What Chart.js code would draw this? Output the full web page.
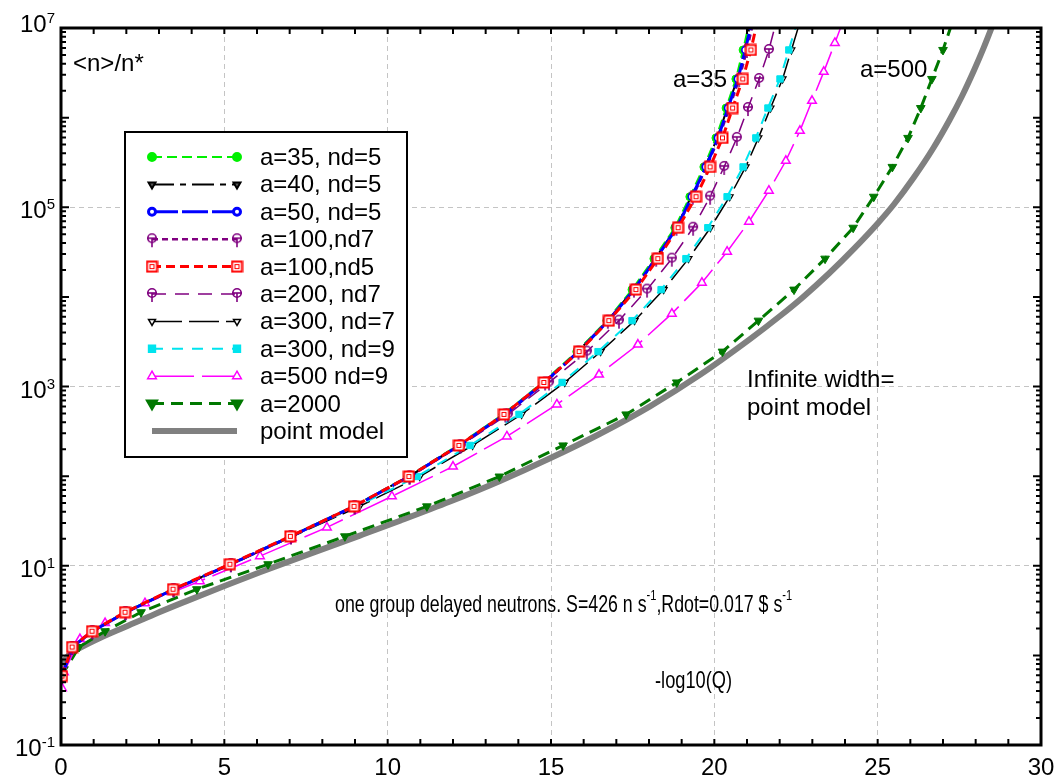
<!DOCTYPE html>
<html>
<head>
<meta charset="utf-8">
<script src="https://cdn.jsdelivr.net/npm/chart.js@4/dist/chart.umd.min.js"></script>
<style>
  html, body { margin: 0; padding: 0; background: #fff; }
</style>
</head>
<body>
<canvas id="grafica" width="1059" height="777"></canvas>
<script>
// niveles de <n>/n* donde caen los marcadores (compartidos por casi todas las curvas)
const niveles = [0.587, 1.24, 1.86, 3.03, 5.47, 10.4, 21.3, 46, 99, 220, 488, 1110, 2450, 5430,
  12050, 26700, 59100, 131000, 282000, 594000, 1.28e6, 2.70e6, 5.69e6, 1.2e7];

// -log10(Q) de cada curva en esos niveles
const x_a35 = [0.03, 0.34, 0.95, 1.96, 3.43, 5.17, 7.01, 8.94, 10.62, 12.15, 13.53, 14.75, 15.79, 16.71, 17.48, 18.15, 18.79, 19.25, 19.68, 20.05, 20.36, 20.66, 20.88, 21.08];
const x_a40 = [0.03, 0.34, 0.96, 1.98, 3.45, 5.19, 7.03, 8.96, 10.64, 12.18, 13.56, 14.78, 15.82, 16.74, 17.52, 18.19, 18.83, 19.29, 19.72, 20.09, 20.40, 20.70, 20.92, 21.12];
const x_a50 = [0.03, 0.35, 0.97, 1.99, 3.46, 5.20, 7.04, 8.98, 10.66, 12.20, 13.58, 14.80, 15.84, 16.76, 17.54, 18.21, 18.85, 19.31, 19.74, 20.11, 20.42, 20.72, 20.95, 21.15];
const x_a100nd7 = [0.03, 0.35, 0.97, 1.99, 3.46, 5.20, 7.04, 8.98, 10.66, 12.21, 13.60, 14.82, 15.84, 16.74, 17.54, 18.22, 18.84, 19.34, 19.76, 20.14, 20.46, 20.76, 21.00, 21.20];
const x_a100nd5 = [0.03, 0.34, 0.95, 1.96, 3.43, 5.17, 7.02, 8.97, 10.65, 12.18, 13.56, 14.78, 15.86, 16.77, 17.60, 18.27, 18.89, 19.44, 19.87, 20.25, 20.56, 20.87, 21.12, 21.32];
const x_a200nd7 = [0.03, 0.34, 0.95, 1.96, 3.43, 5.20, 7.04, 9.00, 10.68, 12.24, 13.68, 14.94, 16.10, 17.08, 17.94, 18.70, 19.35, 19.87, 20.30, 20.69, 21.03, 21.37, 21.67, 21.90];
const x_a300nd7 = [0.03, 0.34, 0.96, 1.98, 3.46, 5.24, 7.10, 9.14, 10.98, 12.60, 14.10, 15.42, 16.52, 17.56, 18.45, 19.21, 19.88, 20.47, 20.96, 21.35, 21.72, 22.09, 22.36, 22.63];
const x_a300nd9 = [0.03, 0.34, 0.95, 1.96, 3.43, 5.20, 7.04, 9.06, 10.90, 12.52, 14.02, 15.34, 16.44, 17.48, 18.37, 19.13, 19.80, 20.39, 20.88, 21.27, 21.64, 22.01, 22.28, 22.55];
const x_a2000 = [0.01, 0.55, 1.35, 2.45, 4.16, 6.34, 8.69, 11.20, 13.42, 15.37, 17.30, 18.85, 20.25, 21.35, 22.44, 23.39, 24.25, 24.88, 25.45, 25.93, 26.32, 26.66, 27.00, 27.30];

// a=500 tiene sus marcadores en otros niveles
const niveles_a500 = [0.43, 0.65, 1.52, 2.29, 3.82, 6.72, 12.8, 26.8, 59.5, 128, 277, 630, 1360, 2940,
  6500, 14400, 31900, 68900, 153000, 330000, 712000, 1.54e6, 3.24e6, 6.81e6, 1.3e7];
const x_a500 = [0.03, 0.09, 0.58, 1.35, 2.57, 4.25, 6.09, 8.14, 10.13, 12.00, 13.65, 15.18, 16.47, 17.66,
  18.70, 19.62, 20.39, 21.06, 21.67, 22.19, 22.62, 22.99, 23.35, 23.69, 23.98];

// modelo puntual (ancho infinito)
const x_punto = [0, 0.09, 0.28, 0.64, 1.19, 1.96, 2.88, 3.80, 5.02, 6.09, 7.32, 9.15, 10.38, 11.91, 13.44,
  14.97, 16.50, 18.03, 19.56, 21.09, 22.0, 22.71, 23.5, 24.3, 25.0, 25.5, 26.1, 26.7, 27.2, 27.58, 27.95, 28.25, 28.45, 28.6];
const n_punto = [0.543, 0.82, 1.03, 1.24, 1.56, 2.07, 2.90, 3.98, 5.98, 8.45, 12.4, 21.7, 31.8, 52.0, 88.3,
  158, 297, 601, 1350, 3380, 6080, 9930, 18100, 35200, 65900, 108000, 213000, 455000, 940000, 1.73e6, 3.37e6, 6.07e6, 9.27e6, 1.29e7];

const etiquetas = ['a=35, nd=5', 'a=40, nd=5', 'a=50, nd=5', 'a=100,nd7', 'a=100,nd5', 'a=200, nd7',
  'a=300, nd=7', 'a=300, nd=9', 'a=500 nd=9', 'a=2000', 'point model'];
const ticks_x = [0, 5, 10, 15, 20, 25, 30];
const ticks_y = [0.1, 10, 1e3, 1e5, 1e7];

const FUENTE = '"Liberation Sans", Arial, sans-serif';
const pares = (xs, ys) => xs.map((v, i) => ({ x: v, y: ys[i] }));

// marcadores propios: circulo con palito (morado) y cuadro doble (rojo)
function marcaMorada() {
  const c = document.createElement('canvas');
  c.width = 14; c.height = 18;
  const g = c.getContext('2d');
  g.strokeStyle = '#800080'; g.lineWidth = 1.6;
  g.beginPath(); g.arc(7, 8, 4.2, 0, 2 * Math.PI); g.stroke();
  g.beginPath(); g.moveTo(7, 8); g.lineTo(7, 17); g.stroke();
  g.beginPath(); g.moveTo(2, 8); g.lineTo(12, 8); g.stroke();
  return c;
}
function marcaRoja() {
  const c = document.createElement('canvas');
  c.width = 13; c.height = 13;
  const g = c.getContext('2d');
  g.fillStyle = '#fff'; g.fillRect(1, 1, 11, 11);
  g.strokeStyle = '#ff0000'; g.lineWidth = 2;
  g.strokeRect(1.5, 1.5, 10, 10);
  g.lineWidth = 1;
  g.strokeRect(4.5, 4.5, 4, 4);
  return c;
}
const morado = marcaMorada();
const rojo = marcaRoja();

const series = [
  { label: etiquetas[0], data: pares(x_a35, niveles), borderColor: '#00f000', borderWidth: 2, borderDash: [10, 5],
    pointStyle: 'circle', pointRadius: 4, pointBackgroundColor: '#00f000', pointBorderWidth: 1, order: 3 },
  { label: etiquetas[1], data: pares(x_a40, niveles), borderColor: '#000', borderWidth: 2, borderDash: [22, 6, 6, 6],
    pointStyle: 'triangle', pointRotation: 180, pointRadius: 4, pointBackgroundColor: '#555', pointBorderWidth: 1.2, order: 4 },
  { label: etiquetas[2], data: pares(x_a50, niveles), borderColor: '#0000ff', borderWidth: 3, borderDash: [26, 4],
    pointStyle: 'circle', pointRadius: 3.5, pointBackgroundColor: '#fff', pointBorderWidth: 1.6, order: 1 },
  { label: etiquetas[3], data: pares(x_a100nd7, niveles), borderColor: '#800080', borderWidth: 2.5, borderDash: [6, 4],
    pointStyle: morado, pointRadius: 5, pointBackgroundColor: '#fff', pointBorderWidth: 1, order: 2 },
  { label: etiquetas[4], data: pares(x_a100nd5, niveles), borderColor: '#ff0000', borderWidth: 3, borderDash: [9, 5],
    pointStyle: rojo, pointRadius: 6, pointBackgroundColor: '#fff', pointBorderWidth: 1, order: 0 },
  { label: etiquetas[5], data: pares(x_a200nd7, niveles), borderColor: '#800080', borderWidth: 1.5, borderDash: [14, 9],
    pointStyle: morado, pointRadius: 5, pointBackgroundColor: '#fff', pointBorderWidth: 1, order: 5 },
  { label: etiquetas[6], data: pares(x_a300nd7, niveles), borderColor: '#000', borderWidth: 1.5, borderDash: [30, 7],
    pointStyle: 'triangle', pointRotation: 180, pointRadius: 4, pointBackgroundColor: '#fff', pointBorderWidth: 1.2, order: 7 },
  { label: etiquetas[7], data: pares(x_a300nd9, niveles), borderColor: '#00e4ee', borderWidth: 2, borderDash: [11, 9],
    pointStyle: 'rect', pointRadius: 4.5, pointBackgroundColor: '#00e4ee', pointBorderWidth: 1, order: 6 },
  { label: etiquetas[8], data: pares(x_a500, niveles_a500), borderColor: '#ff00ff', borderWidth: 1.5, borderDash: [42, 8],
    pointStyle: 'triangle', pointRadius: 5, pointBackgroundColor: '#fff', pointBorderWidth: 1.5, order: 8 },
  { label: etiquetas[9], data: pares(x_a2000, niveles), borderColor: '#007800', borderWidth: 3, borderDash: [12, 7],
    pointStyle: 'triangle', pointRotation: 180, pointRadius: 5, pointBackgroundColor: '#007800', pointBorderWidth: 1, order: 9 },
  { label: etiquetas[10], data: pares(x_punto, n_punto), borderColor: '#808080', borderWidth: 6, borderDash: [],
    pointStyle: 'cross', pointRadius: 0, pointBackgroundColor: '#808080', pointBorderWidth: 1,
    cubicInterpolationMode: 'monotone', order: 10 }
];

series.forEach(s => {
  s.pointBorderColor = s.borderColor;
  s.pointHoverRadius = s.pointRadius;
  s.fill = false;
  s.clip = 0;
  s.tension = s.cubicInterpolationMode ? 0.4 : 0;
});

const sinBorde = (ctx, extremos) => extremos.includes(ctx.tick.value) ? 'rgba(0,0,0,0)' : '#c4c4c4';

const dibujos = {
  id: 'dibujos',
  afterDraw(chart) {
    const { ctx, chartArea: a, scales: { x, y } } = chart;
    const helpers = Chart.helpers;
    ctx.save();

    // marquitas hacia adentro
    ctx.strokeStyle = '#000';
    ctx.lineWidth = 2;
    ctx.beginPath();
    for (let v = 0; v <= 30; v++) {
      const px = x.getPixelForValue(v);
      ctx.moveTo(px, a.bottom); ctx.lineTo(px, a.bottom - 6);
      ctx.moveTo(px, a.top); ctx.lineTo(px, a.top + 6);
    }
    for (let e = -1; e < 7; e++) {
      for (let m = 1; m <= 9; m++) {
        const py = y.getPixelForValue(m * Math.pow(10, e));
        const largo = m === 1 ? 8 : 5;
        ctx.moveTo(a.left, py); ctx.lineTo(a.left + largo, py);
        ctx.moveTo(a.right, py); ctx.lineTo(a.right - largo, py);
      }
    }
    ctx.stroke();
    ctx.lineWidth = 3;
    ctx.strokeRect(a.left, a.top, a.right - a.left, a.bottom - a.top);

    // etiquetas de los ejes
    ctx.fillStyle = '#000';
    ctx.textBaseline = 'alphabetic';
    ctx.textAlign = 'center';
    ctx.font = '24px ' + FUENTE;
    ticks_x.forEach(v => ctx.fillText(String(v), x.getPixelForValue(v), 775));
    ctx.textAlign = 'left';
    ticks_y.forEach(v => {
      const py = y.getPixelForValue(v);
      const exp = String(Math.round(Math.log10(v)));
      ctx.font = '15px ' + FUENTE;
      const we = ctx.measureText(exp).width;
      ctx.font = '24px ' + FUENTE;
      const wb = ctx.measureText('10').width;
      const der = 55;
      const base = v === 1e7 ? py + 4 : py + 11;
      ctx.fillText('10', der - we - wb, base);
      ctx.font = '15px ' + FUENTE;
      ctx.fillText(exp, der - we, base - 9);
    });

    // textos sueltos
    ctx.font = '24px ' + FUENTE;
    ctx.fillText('<n>/n*', 73, 71);
    ctx.fillText('a=35', 673, 87);
    ctx.fillText('a=500', 860, 77);
    ctx.fillText('Infinite width=', 747, 387);
    ctx.fillText('point model', 747, 415);

    // textos angostos de abajo
    const angosto = (partes, x0, base, esc) => {
      ctx.save();
      ctx.translate(x0, base);
      ctx.scale(esc, 1);
      let cx = 0;
      partes.forEach(([t, sup]) => {
        ctx.font = (sup ? '15px ' : '24px ') + FUENTE;
        ctx.fillText(t, cx, sup ? -12 : 0);
        cx += ctx.measureText(t).width;
      });
      ctx.restore();
    };
    angosto([['one group delayed neutrons. S=426 n s', false], ['-1', true], [',Rdot=0.017 $ s', false], ['-1', true]], 335, 612, 0.74);
    angosto([['-log10(Q)', false]], 655, 688, 0.76);

    // leyenda
    const cx0 = 125, cy0 = 132, cw = 282, ch = 325;
    ctx.fillStyle = '#fff';
    ctx.fillRect(cx0, cy0, cw, ch);
    ctx.lineWidth = 2;
    ctx.strokeStyle = '#000';
    ctx.strokeRect(cx0, cy0, cw, ch);
    series.forEach((s, i) => {
      const fy = 157 + i * 27.4;
      ctx.save();
      ctx.strokeStyle = s.borderColor;
      ctx.lineWidth = s.borderWidth;
      ctx.setLineDash(s.borderDash || []);
      ctx.beginPath(); ctx.moveTo(152, fy); ctx.lineTo(237, fy); ctx.stroke();
      ctx.setLineDash([]);
      if (i < 10) {
        ctx.fillStyle = s.pointBackgroundColor;
        ctx.strokeStyle = s.pointBorderColor;
        const op = { pointStyle: s.pointStyle, rotation: s.pointRotation || 0, radius: s.pointRadius, borderWidth: s.pointBorderWidth };
        helpers.drawPoint(ctx, op, 152, fy);
        helpers.drawPoint(ctx, op, 237, fy);
      }
      ctx.restore();
      ctx.fillStyle = '#000';
      ctx.font = '24px ' + FUENTE;
      ctx.fillText(s.label, 260, fy + 8);
    });

    ctx.restore();
  }
};

new Chart(document.getElementById('grafica').getContext('2d'), {
  type: 'line',
  data: { datasets: series },
  options: {
    responsive: false,
    animation: false,
    devicePixelRatio: 1,
    layout: { padding: { left: 61, top: 28, right: 18, bottom: 32 } },
    plugins: {
      legend: { display: false },
      tooltip: { enabled: false }
    },
    scales: {
      x: {
        type: 'linear',
        min: 0,
        max: 30,
        ticks: { display: false, stepSize: 5 },
        afterBuildTicks: s => { s.ticks = ticks_x.map(v => ({ value: v })); },
        grid: { drawTicks: false, color: c => sinBorde(c, [0, 30]), lineWidth: 1 },
        border: { display: false, dash: [5, 4] }
      },
      y: {
        type: 'logarithmic',
        min: 0.1,
        max: 1e7,
        ticks: { display: false },
        afterBuildTicks: s => { s.ticks = ticks_y.map(v => ({ value: v })); },
        grid: { drawTicks: false, color: c => sinBorde(c, [0.1, 1e7]), lineWidth: 1 },
        border: { display: false, dash: [5, 4] }
      }
    }
  },
  plugins: [dibujos]
});
</script>
</body>
</html>
